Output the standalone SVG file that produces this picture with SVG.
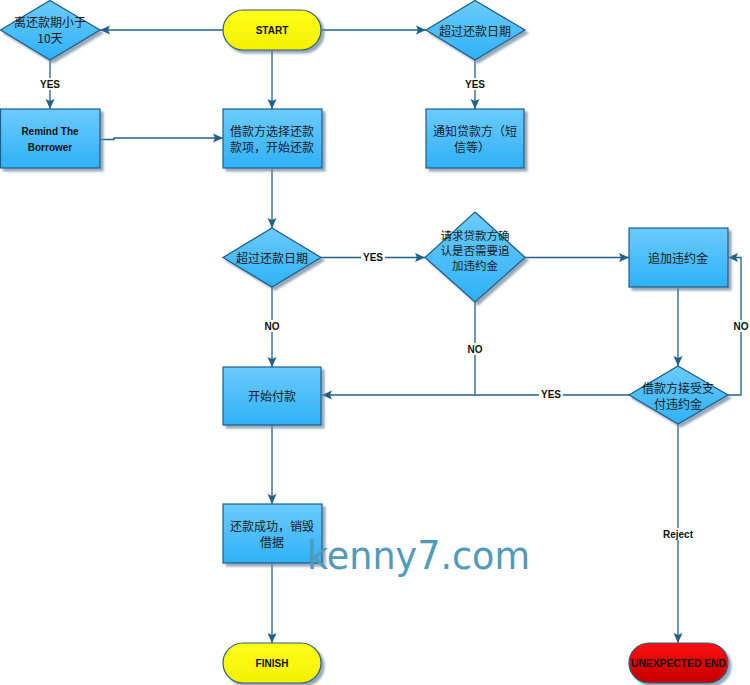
<svg xmlns="http://www.w3.org/2000/svg" width="750" height="685" viewBox="0 0 750 685">
<defs>
<linearGradient id="gBlue" x1="0" y1="0" x2="0" y2="1">
<stop offset="0" stop-color="#6ccbfd"/><stop offset="1" stop-color="#2eb1f6"/>
</linearGradient>
<linearGradient id="gYellow" x1="0" y1="0" x2="0" y2="1">
<stop offset="0" stop-color="#ffff1a"/><stop offset="1" stop-color="#f2f000"/>
</linearGradient>
<linearGradient id="gRed" x1="0" y1="0" x2="0" y2="1">
<stop offset="0" stop-color="#ff0a0a"/><stop offset="1" stop-color="#c40000"/>
</linearGradient>
<filter id="sh" x="-10%" y="-10%" width="130%" height="130%">
<feDropShadow dx="3" dy="3" stdDeviation="0.8" flood-color="#6f8ca0" flood-opacity="0.75"/>
</filter>
<marker id="arr" viewBox="0 0 10 10" refX="10" refY="5" markerWidth="10" markerHeight="10" markerUnits="userSpaceOnUse" orient="auto">
<path d="M0,0.5 L10,5 L0,9.5 L2,5 Z" fill="#20618c"/>
</marker>
<style>
.box{fill:url(#gBlue);stroke:#1e5b85;stroke-width:1.2;filter:url(#sh)}
.dia{fill:url(#gBlue);stroke:#1e5b85;stroke-width:1.2;filter:url(#sh)}
.term{fill:url(#gYellow);stroke:#2b5d7c;stroke-width:1.2;filter:url(#sh)}
.termr{fill:url(#gRed);stroke:#2b5d7c;stroke-width:1.2;filter:url(#sh)}
.cn{font-family:"Noto Sans CJK SC","Liberation Sans",sans-serif;font-size:12px;fill:#1a1a1a;text-anchor:middle;dominant-baseline:central}
.cs{font-size:11.5px}
.en{font-family:"Liberation Sans","DejaVu Sans",sans-serif;font-size:10px;font-weight:bold;fill:#111;text-anchor:middle;dominant-baseline:central}
.ln{fill:none;stroke:#20618c;stroke-width:1.3}
.lbg{fill:#ffffff}
.wm{font-family:"DejaVu Sans","Liberation Sans",sans-serif;font-size:39px;fill:#5299bb}
</style>
</defs>

<g id="connectors">
<path class="ln" d="M223,30 L100,30" marker-end="url(#arr)"/>
<path class="ln" d="M321,30 L426,30" marker-end="url(#arr)"/>
<path class="ln" d="M272,50 L272,109" marker-end="url(#arr)"/>
<path class="ln" d="M50,60 L50,109" marker-end="url(#arr)"/>
<path class="ln" d="M475,60 L475,109" marker-end="url(#arr)"/>
<path class="ln" d="M100,139.5 L114,139.5 L114,138 L223,138" marker-end="url(#arr)"/>
<path class="ln" d="M272,168 L272,228" marker-end="url(#arr)"/>
<path class="ln" d="M321,257.5 L425,257.5" marker-end="url(#arr)"/>
<path class="ln" d="M525,257.5 L629,257.5" marker-end="url(#arr)"/>
<path class="ln" d="M272,287 L272,367" marker-end="url(#arr)"/>
<path class="ln" d="M475,302 L475,395"/>
<path class="ln" d="M629,395 L322,395" marker-end="url(#arr)"/>
<path class="ln" d="M678,287 L678,366" marker-end="url(#arr)"/>
<path class="ln" d="M728,395 L741,395 L741,257.5 L728,257.5" marker-end="url(#arr)"/>
<path class="ln" d="M678,424 L678,643" marker-end="url(#arr)"/>
<path class="ln" d="M272,425 L272,504" marker-end="url(#arr)"/>
<path class="ln" d="M272,563 L272,643" marker-end="url(#arr)"/>
<g id="labels">
<rect class="lbg" x="38" y="78" width="24" height="12"/><text class="en" x="50" y="84">YES</text>
<rect class="lbg" x="463" y="78" width="24" height="12"/><text class="en" x="475" y="84">YES</text>
<rect class="lbg" x="361" y="251" width="24" height="12"/><text class="en" x="373" y="257">YES</text>
<rect class="lbg" x="262" y="320" width="20" height="12"/><text class="en" x="272" y="326">NO</text>
<rect class="lbg" x="465" y="343" width="20" height="12"/><text class="en" x="475" y="349">NO</text>
<rect class="lbg" x="539" y="388" width="24" height="12"/><text class="en" x="551" y="394">YES</text>
<rect class="lbg" x="731" y="320" width="20" height="12"/><text class="en" x="741" y="326">NO</text>
<rect class="lbg" x="660" y="528" width="36" height="12"/><text class="en" x="678" y="534">Reject</text>
</g>
</g>

<g id="start"><rect class="term" x="223" y="10" width="98" height="40" rx="20" ry="20"/><text class="en" x="272" y="30">START</text></g>
<g id="d-less10"><polygon class="dia" points="50,0.5 100,30 50,60 0.5,30"/><text class="cn" x="50" y="21">离还款期小于</text><text class="cn" x="50" y="37">10天</text></g>
<g id="d-overdue1"><polygon class="dia" points="475,0.5 525,30 475,60 426,30"/><text class="cn" x="475" y="30">超过还款日期</text></g>
<g id="remind"><rect class="box" x="0.5" y="109" width="99.5" height="59"/><text class="en" x="50" y="131">Remind The</text><text class="en" x="50" y="147">Borrower</text></g>
<g id="choose"><rect class="box" x="223" y="109" width="99" height="59"/><text class="cn" x="272" y="130">借款方选择还款</text><text class="cn" x="272" y="146">款项，开始还款</text></g>
<g id="notify"><rect class="box" x="426" y="109" width="98" height="59"/><text class="cn" x="475" y="130">通知贷款方（短</text><text class="cn" x="472" y="146">信等）</text></g>
<g id="d-overdue2"><polygon class="dia" points="272,228 321,257.5 272,287 223,257.5"/><text class="cn" x="272" y="257.5">超过还款日期</text></g>
<g id="d-ask"><polygon class="dia" points="475,212 525,257.5 475,302 425,257.5"/><text class="cn cs" x="475" y="234.5">请求贷款方确</text><text class="cn cs" x="475" y="249.5">认是否需要追</text><text class="cn cs" x="475" y="264.5">加违约金</text></g>
<g id="penalty"><rect class="box" x="629" y="228" width="99" height="59"/><text class="cn" x="678" y="257.5">追加违约金</text></g>
<g id="d-accept"><polygon class="dia" points="678,366 728,395 678,424 629,395"/><text class="cn" x="678" y="387">借款方接受支</text><text class="cn" x="678" y="403">付违约金</text></g>
<g id="pay"><rect class="box" x="223" y="367" width="98" height="58"/><text class="cn" x="272" y="395">开始付款</text></g>
<g id="success"><rect class="box" x="223" y="504" width="99" height="59"/><text class="cn" x="272" y="525">还款成功，销毁</text><text class="cn" x="272" y="541">借据</text></g>
<g id="finish"><rect class="term" x="223" y="643" width="98" height="40" rx="20" ry="20"/><text class="en" x="272" y="663">FINISH</text></g>
<g id="unexpected"><rect class="termr" x="629" y="643" width="99" height="40" rx="20" ry="20"/><text class="en" x="678.5" y="663" textLength="95" lengthAdjust="spacingAndGlyphs">UNEXPECTED END</text></g>

<text class="wm" x="307" y="569" textLength="223" lengthAdjust="spacingAndGlyphs">kenny7.com</text>
</svg>
